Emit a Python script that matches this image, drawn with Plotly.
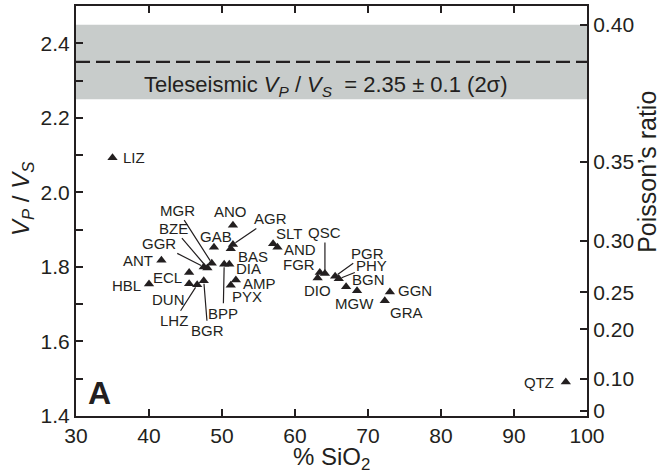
import numpy as np
import plotly.graph_objects as go

# rock types: SiO2 (%) and Vp/Vs
rocks = ["LIZ", "ANT", "HBL", "ECL", "DUN", "LHZ", "BGR", "GGR", "BZE", "MGR",
         "GAB", "ANO", "AGR", "BAS", "BPP", "DIA", "AMP", "PYX", "SLT", "AND",
         "FGR", "QSC", "DIO", "PGR", "PHY", "BGN", "MGW", "GGN", "GRA", "QTZ"]
sio2 = [35.0, 41.7, 40.0, 45.5, 45.5, 46.6, 47.5, 47.5, 48.0, 48.6,
        48.9, 51.5, 51.5, 51.2, 50.3, 51.0, 51.9, 51.2, 57.0, 57.6,
        63.4, 64.1, 63.1, 65.5, 66.0, 67.0, 68.5, 73.0, 72.3, 97.1]
vpvs = [2.093, 1.818, 1.754, 1.785, 1.755, 1.752, 1.763, 1.800, 1.797, 1.810,
        1.853, 1.912, 1.860, 1.849, 1.807, 1.807, 1.765, 1.751, 1.862, 1.853,
        1.785, 1.782, 1.770, 1.775, 1.768, 1.747, 1.736, 1.733, 1.709, 1.491]

x_ticks = [30, 40, 50, 60, 70, 80, 90, 100]
y_ticks = [1.4, 1.5, 1.6, 1.7, 1.8, 1.9, 2.0, 2.1, 2.2, 2.3, 2.4]
y_ticktext = ["1.4", "", "1.6", "", "1.8", "", "2.0", "", "2.2", "", "2.4"]
poisson = [0.0, 0.10, 0.20, 0.25, 0.30, 0.35, 0.40]
poisson_text = ["0", "0.10", "0.20", "0.25", "0.30", "0.35", "0.40"]

tele_vpvs = 2.35
tele_err = 0.1

# label placement in pixels: name -> (dx, dy, xanchor, arrow)
# dy is upward shift for plain labels, downward tail offset for leader lines
label_pos = {
    "LIZ": (8, 0, "left", False), "ANT": (-6, 0, "right", False),
    "HBL": (-6, -1, "right", False), "ECL": (-5, -5, "right", False),
    "DUN": (-21, -16, "center", False), "LHZ": (-23, 36, "center", True),
    "BGR": (4, 50, "center", True), "GGR": (-45, -23, "center", True),
    "BZE": (-34, -40, "center", True), "MGR": (-34, -53, "center", True),
    "GAB": (2, 11, "center", False), "ANO": (-2, 14, "center", False),
    "AGR": (38, -26, "center", True), "BAS": (5, -8, "left", False),
    "BPP": (-1, 49, "center", True), "DIA": (5, -4, "left", False),
    "AMP": (5, -4, "left", False), "PYX": (-1, -11, "left", False),
    "SLT": (16, 10, "center", False), "AND": (5, -2, "left", False),
    "FGR": (-3, 8, "right", False), "QSC": (0, -41, "center", True),
    "DIO": (0, -12, "center", False), "PGR": (32, -23, "center", True),
    "PHY": (33, -13, "center", True), "BGN": (4, 7, "left", False),
    "MGW": (-3, -13, "center", False), "GGN": (6, 1, "left", False),
    "GRA": (22, -12, "center", False), "QTZ": (-10, 0, "right", False),
}

font = "Liberation Sans, Arial, Helvetica, sans-serif"
ink = "#231f20"

fig = go.Figure()

# teleseismic band
fig.add_shape(type="rect", xref="paper", x0=0, x1=1, yref="y",
              y0=tele_vpvs - tele_err, y1=tele_vpvs + tele_err,
              fillcolor="#c8cccb", line=dict(width=0), layer="below")
fig.add_shape(type="line", xref="paper", x0=0, x1=1, yref="y",
              y0=tele_vpvs, y1=tele_vpvs,
              line=dict(color=ink, width=2.2, dash="14px,6px"))

fig.add_trace(go.Scatter(x=sio2, y=vpvs, mode="markers",
                         marker=dict(symbol="triangle-up", size=9, color=ink),
                         hovertext=rocks, showlegend=False))

# invisible trace to carry the Poisson's ratio axis
fig.add_trace(go.Scatter(x=[sio2[0]], y=[vpvs[0]], yaxis="y2", mode="markers",
                         marker=dict(opacity=0), showlegend=False, hoverinfo="skip"))

for name, x, y in zip(rocks, sio2, vpvs):
    dx, dy, anchor, arrow = label_pos[name]
    if arrow:
        fig.add_annotation(x=x, y=y, text=name, showarrow=True, arrowhead=0,
                           arrowwidth=1.2, arrowcolor=ink, ax=dx, ay=dy,
                           standoff=3, font=dict(size=15, color=ink, family=font))
    else:
        fig.add_annotation(x=x, y=y, text=name, showarrow=False, xanchor=anchor,
                           xshift=dx, yshift=dy,
                           font=dict(size=15, color=ink, family=font))

fig.add_annotation(x=64.2, y=2.285,
                   text="Teleseismic <i>V<sub>P</sub></i> / <i>V<sub>S</sub></i>  = 2.35 ± 0.1 (2σ)",
                   showarrow=False, font=dict(size=22, color=ink, family=font))
fig.add_annotation(xref="paper", yref="paper", x=0.02, y=0.0, xanchor="left", yanchor="bottom",
                   text="<b>A</b>", showarrow=False, yshift=3,
                   font=dict(size=32, color=ink, family=font))

# axis titles
fig.add_annotation(xref="paper", yref="paper", x=-0.105, y=0.53, textangle=-90,
                   xanchor="center", yanchor="middle",
                   text="<i>V<sub>P</sub></i> / <i>V<sub>S</sub></i>", showarrow=False,
                   font=dict(size=24, color=ink, family=font))
fig.add_annotation(xref="paper", yref="paper", x=1.117, y=0.595, textangle=-90,
                   xanchor="center", yanchor="middle",
                   text="Poisson’s ratio", showarrow=False,
                   font=dict(size=25, color=ink, family=font))
fig.add_annotation(xref="paper", yref="paper", x=0.5, y=-0.104, yanchor="middle",
                   text="% SiO<sub>2</sub>", showarrow=False,
                   font=dict(size=24, color=ink, family=font))

axis_common = dict(showgrid=False, zeroline=False, showline=True, linecolor=ink,
                   linewidth=2, ticks="inside", ticklen=7, tickwidth=1.5, tickcolor=ink,
                   tickfont=dict(size=21, color=ink, family=font))

fig.update_layout(
    width=661, height=473,
    margin=dict(l=76, r=74, t=4, b=57),
    paper_bgcolor="white", plot_bgcolor="white",
    xaxis=dict(range=[30, 100], tickvals=x_ticks, mirror="ticks", **axis_common),
    yaxis=dict(range=[1.4, 2.5], tickvals=y_ticks, ticktext=y_ticktext, **axis_common),
    yaxis2=dict(range=[1.4, 2.5], overlaying="y", side="right",
                tickvals=[np.sqrt((2 - 2 * v) / (1 - 2 * v)) for v in poisson],
                ticktext=poisson_text, **axis_common),
)

fig.write_html("out.html", config={"displayModeBar": False},
               post_script="document.body.style.margin='0';")
